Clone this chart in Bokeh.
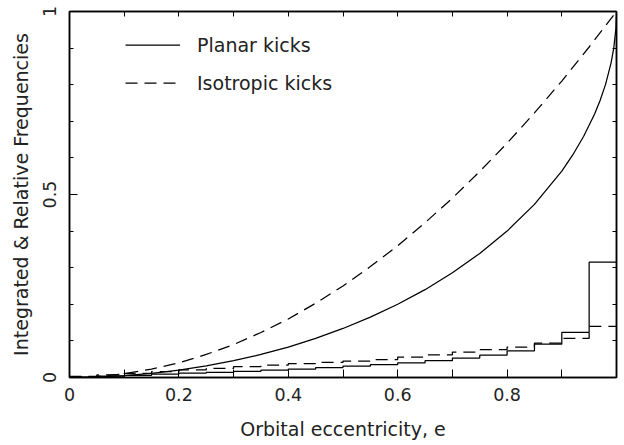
from bokeh.plotting import figure
from bokeh.models import LinearAxis, FixedTicker, Range1d, Legend, LegendItem
from bokeh.embed import file_html
from bokeh.resources import INLINE

# Integrated distributions
e_planar = [0, 0.05, 0.1, 0.15, 0.2, 0.25, 0.3, 0.35, 0.4, 0.45, 0.5, 0.55, 0.6,
            0.65, 0.7, 0.75, 0.8, 0.85, 0.9, 0.92, 0.94, 0.96, 0.97, 0.98, 0.99,
            0.995, 0.999, 1.0]
cum_planar = [0, 0.001, 0.005, 0.011, 0.020, 0.032, 0.046, 0.063, 0.083, 0.107,
              0.134, 0.165, 0.200, 0.240, 0.286, 0.339, 0.400, 0.473, 0.564,
              0.608, 0.659, 0.720, 0.757, 0.801, 0.859, 0.900, 0.955, 1.0]
e_iso = [0, 0.05, 0.1, 0.15, 0.2, 0.25, 0.3, 0.35, 0.4, 0.45, 0.5, 0.55, 0.6,
         0.65, 0.7, 0.75, 0.8, 0.85, 0.9, 0.95, 1.0]
cum_iso = [0, 0.003, 0.010, 0.023, 0.040, 0.063, 0.090, 0.123, 0.160, 0.203,
           0.250, 0.303, 0.360, 0.423, 0.490, 0.563, 0.640, 0.723, 0.810,
           0.903, 1.0]

# Relative frequencies per bin (bin width 0.05)
bin_edges = [0, 0.05, 0.1, 0.15, 0.2, 0.25, 0.3, 0.35, 0.4, 0.45, 0.5, 0.55,
             0.6, 0.65, 0.7, 0.75, 0.8, 0.85, 0.9, 0.95, 1.0]
freq_planar = [0.001, 0.004, 0.006, 0.009, 0.012, 0.014, 0.017, 0.020, 0.023,
               0.027, 0.031, 0.035, 0.040, 0.046, 0.053, 0.061, 0.073, 0.091,
               0.123, 0.315]
freq_iso = [0.003, 0.007, 0.011, 0.016, 0.021, 0.025, 0.030, 0.034, 0.038,
            0.041, 0.045, 0.049, 0.056, 0.062, 0.069, 0.076, 0.083, 0.094,
            0.107, 0.140]

x_label_ticks = [0, 0.2, 0.4, 0.6, 0.8]
x_minor_ticks = [0.1, 0.3, 0.5, 0.7, 0.9]
y_label_ticks = [0, 0.5, 1]
y_minor_ticks = [0.1, 0.2, 0.3, 0.4, 0.6, 0.7, 0.8, 0.9]

FONT = "DejaVu Sans"
TXT = "#222222"
LABEL_SIZE = "19px"
TICK_SIZE = "17.5px"
LW = 1.25

p = figure(width=624, height=445, output_backend="svg", toolbar_location=None,
           x_range=Range1d(0, 1), y_range=Range1d(0, 1),
           min_border_left=69, min_border_right=8, min_border_top=11,
           min_border_bottom=68, x_axis_location=None, y_axis_location=None)
p.grid.visible = False
p.outline_line_color = "black"
p.outline_line_width = 1.5
p.background_fill_color = "white"
p.border_fill_color = "white"


def make_axis(ticks, minor, tick_in, minor_in, show):
    ax = LinearAxis(ticker=FixedTicker(ticks=ticks, minor_ticks=minor))
    ax.major_tick_in = tick_in
    ax.major_tick_out = 0
    ax.minor_tick_in = minor_in
    ax.minor_tick_out = 0
    ax.axis_line_color = "black"
    ax.axis_line_width = 1.5
    ax.major_tick_line_color = "black"
    ax.minor_tick_line_color = "black"
    if not show:
        ax.major_label_text_alpha = 0
        ax.major_label_text_font_size = "1px"
        ax.major_label_standoff = 0
    else:
        ax.major_label_text_font = FONT
        ax.major_label_text_font_size = TICK_SIZE
        ax.major_label_text_color = TXT
    return ax


xb = make_axis(x_label_ticks, x_minor_ticks, 8, 8, True)
xb.axis_label = "Orbital eccentricity, e"
xb.axis_label_text_font = FONT
xb.axis_label_text_font_size = LABEL_SIZE
xb.axis_label_text_font_style = "normal"
xb.axis_label_text_color = TXT
xb.major_label_standoff = 10
xb.axis_label_standoff = 14
p.add_layout(xb, "below")

xt = make_axis(x_label_ticks, x_minor_ticks, 5, 5, False)
p.add_layout(xt, "above")

yl = make_axis(y_label_ticks, y_minor_ticks, 8, 4, True)
yl.major_label_orientation = "vertical"
yl.axis_label = "Integrated & Relative Frequencies"
yl.axis_label_text_font = FONT
yl.axis_label_text_font_size = LABEL_SIZE
yl.axis_label_text_font_style = "normal"
yl.axis_label_text_color = TXT
yl.major_label_standoff = 14
yl.axis_label_standoff = 8
p.add_layout(yl, "left")

yr = make_axis(y_label_ticks, y_minor_ticks, 4, 4, False)
p.add_layout(yr, "right")

r_planar = p.line(e_planar, cum_planar, line_color="black", line_width=LW)
r_iso = p.line(e_iso, cum_iso, line_color="black", line_width=LW, line_dash="12 7")

p.step(bin_edges, freq_planar + [freq_planar[-1]], mode="after",
       line_color="black", line_width=LW)
p.step(bin_edges, freq_iso + [freq_iso[-1]], mode="after",
       line_color="black", line_width=LW, line_dash="12 7")

legend = Legend(items=[LegendItem(label="Planar kicks", renderers=[r_planar]),
                       LegendItem(label="Isotropic kicks", renderers=[r_iso])],
                location=(56, 283), glyph_width=55, glyph_height=23,
                spacing=15, label_standoff=17, padding=0, margin=0,
                border_line_color=None, background_fill_alpha=0,
                label_text_font=FONT, label_text_font_size=LABEL_SIZE,
                label_text_color=TXT)
p.add_layout(legend, "center")

open("out.html", "w").write(file_html(p, INLINE))
